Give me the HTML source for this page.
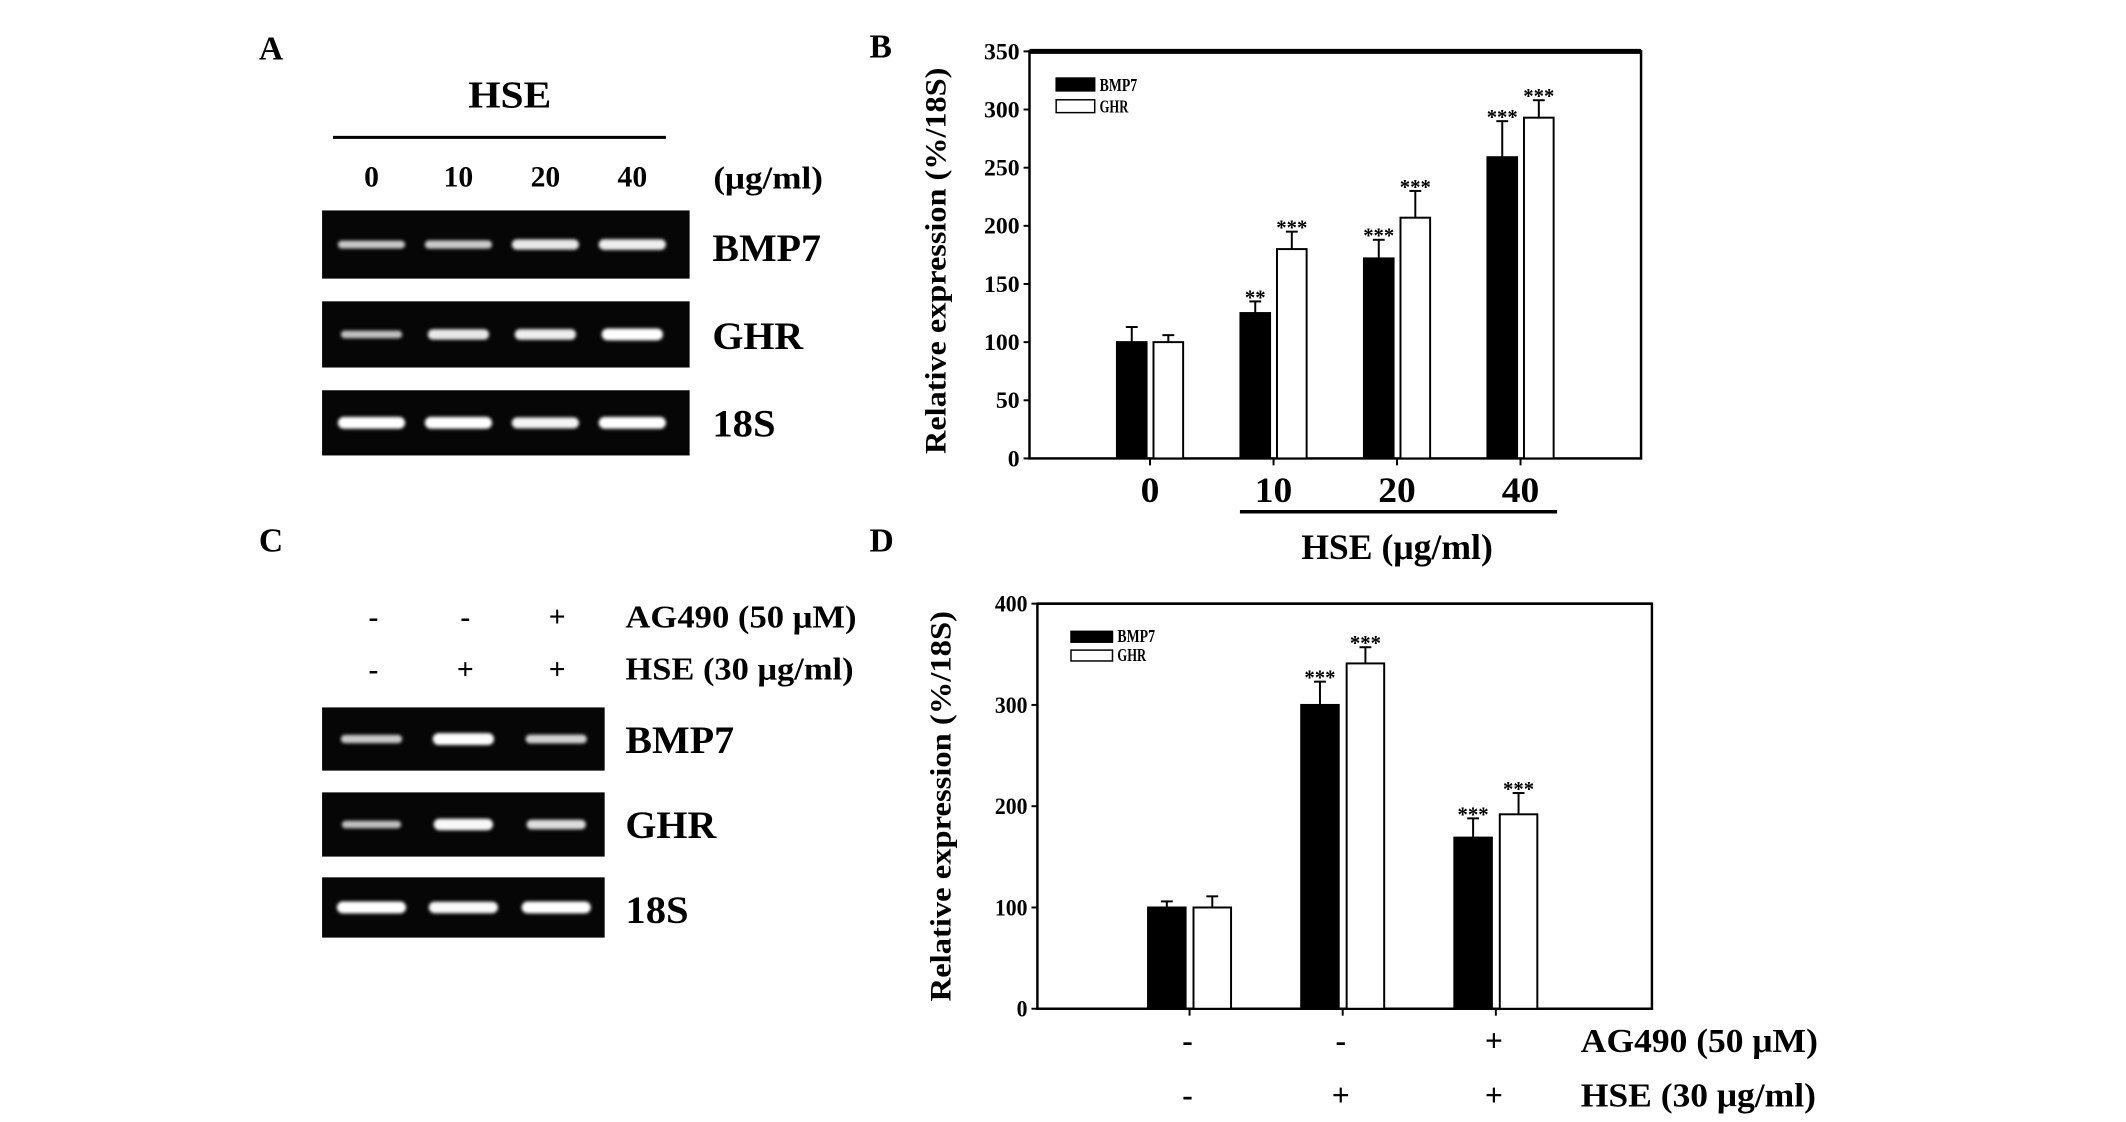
<!DOCTYPE html>
<html><head><meta charset="utf-8"><style>
html,body{margin:0;padding:0;background:#fff;overflow:hidden;}
svg{display:block;font-family:"Liberation Serif",serif;font-weight:bold;}
</style></head><body>
<svg id="fig" width="2126" height="1122" viewBox="0 0 2126 1122" xmlns="http://www.w3.org/2000/svg">
<defs>
<filter id="blur" x="-20%" y="-100%" width="140%" height="300%"><feGaussianBlur stdDeviation="1.6"/></filter>
</defs>
<g transform="scale(0.988)">
<!-- Panel A -->
<text x="262" y="60" font-size="34">A</text>
<text x="516" y="109" font-size="38" text-anchor="middle" textLength="84" lengthAdjust="spacingAndGlyphs">HSE</text>
<line x1="337" y1="139" x2="674" y2="139" stroke="#000" stroke-width="3"/>
<g font-size="30" text-anchor="middle">
<text x="376" y="189">0</text><text x="464" y="189">10</text><text x="552" y="189">20</text><text x="640" y="189">40</text>
</g>
<text x="722" y="191" font-size="32" textLength="111" lengthAdjust="spacingAndGlyphs">(μg/ml)</text>
<g id="gelA"></g>
<text x="721" y="264" font-size="40" textLength="110" lengthAdjust="spacingAndGlyphs">BMP7</text>
<text x="721" y="353" font-size="40" textLength="92" lengthAdjust="spacingAndGlyphs">GHR</text>
<text x="721" y="442" font-size="40" textLength="64" lengthAdjust="spacingAndGlyphs">18S</text>

<!-- Panel C -->
<text x="262" y="558" font-size="34">C</text>
<g font-size="30" text-anchor="middle">
<text x="378" y="634">-</text><text x="471" y="634">-</text><text x="564" y="634">+</text>
<text x="378" y="687">-</text><text x="471" y="687">+</text><text x="564" y="687">+</text>
</g>
<text x="633" y="635" font-size="32" textLength="234" lengthAdjust="spacingAndGlyphs">AG490 (50 μM)</text>
<text x="633" y="688" font-size="32" textLength="231" lengthAdjust="spacingAndGlyphs">HSE (30 μg/ml)</text>
<g id="gelC"></g>
<text x="633" y="762" font-size="40" textLength="110" lengthAdjust="spacingAndGlyphs">BMP7</text>
<text x="633" y="848" font-size="40" textLength="92" lengthAdjust="spacingAndGlyphs">GHR</text>
<text x="633" y="934" font-size="40" textLength="64" lengthAdjust="spacingAndGlyphs">18S</text>

<!-- Panel B -->
<text x="880" y="58" font-size="34">B</text>
<g id="chartB"></g>
<!-- Panel D -->
<text x="880" y="558" font-size="34">D</text>
<g id="chartD"></g>
</g>
</svg>
<script>
// ---- Chart B data ----
const catsB = ["0","10","20","40"];
const bmpB = [100,125,172,259];
const bmpErrB = [13,10,16,31];
const ghrB = [100,180,207,293];
const ghrErrB = [6,15,23,15];
const bmpSigB = ["","**","***","***"];
const ghrSigB = ["","***","***","***"];
const ticksB = [0,50,100,150,200,250,300,350];
// ---- Chart D data ----
const bmpD = [100,300,169];
const bmpErrD = [6,23,19];
const ghrD = [100,341,192];
const ghrErrD = [11,16,21];
const bmpSigD = ["","***","***"];
const ghrSigD = ["","***","***"];
const ticksD = [0,100,200,300,400];
const ag490D = ["-","-","+"];
const hseD = ["-","+","+"];
// ---- Gel band intensities (0..1) ----
const gelA_bmp = [0.5,0.55,0.8,0.85];
const gelA_ghr = [0.45,0.8,0.85,1.0];
const gelA_18s = [1,1,0.9,1];
const gelC_bmp = [0.55,1,0.6];
const gelC_ghr = [0.45,0.95,0.7];
const gelC_18s = [1,0.95,1];

const NS="http://www.w3.org/2000/svg";
function mk(tag,attrs,parent){const e=document.createElementNS(NS,tag);for(const k in attrs)e.setAttribute(k,attrs[k]);parent.appendChild(e);return e;}

function gel(parent,x0,x1,y0,y1,lanes,vals,name,bw){
  const r=mk('rect',{x:x0,y:y0,width:x1-x0,height:y1-y0,fill:'#060606'},parent);
  
  
  const cy=(y0+y1)/2;
  vals.forEach((v,i)=>{
    const h=4+8*v;
    const c=Math.round(140+115*v);
    const b=mk('rect',{x:lanes[i]-bw/2,y:cy-h/2,width:bw,height:h,rx:h/2,fill:'rgb('+c+','+c+','+c+')',filter:'url(#blur)'},parent);
    
    
  });
}
const gA=document.getElementById('gelA');
const lanesA=[376,464,552,640];
gel(gA,326,698,213,282,lanesA,gelA_bmp,'gel-a-bmp7',68);
gel(gA,326,698,305,372,lanesA,gelA_ghr,'gel-a-ghr',62);
gel(gA,326,698,395,461,lanesA,gelA_18s,'gel-a-18s',68);
const gC=document.getElementById('gelC');
const lanesC=[376,469,563];
gel(gC,326,612,716,780,lanesC,gelC_bmp,'gel-c-bmp7',62);
gel(gC,326,612,802,867,lanesC,gelC_ghr,'gel-c-ghr',60);
gel(gC,326,612,888,949,lanesC,gelC_18s,'gel-c-18s',70);

function chart(g,o){
  const y=v=>o.bot-(v-0)/(o.max)*(o.bot-o.top);
  const n=o.bmp.length;
  const xc=i=>o.c0+i*o.step;
  const f=mk('rect',{x:o.left,y:o.top,width:o.right-o.left,height:o.bot-o.top,fill:'none',stroke:'#000','stroke-width':2.5},g);
  
  
  const tl=mk('line',{x1:o.left,y1:o.top,x2:o.right,y2:o.top,stroke:'#000','stroke-width':o.topW},g);
  
  
  o.ticks.forEach(t=>{
    const tk=mk('line',{x1:o.left-6,y1:y(t),x2:o.left,y2:y(t),stroke:'#000','stroke-width':2},g);
    
    
    const s=String(t);
    const lb=mk('text',{x:o.left-10,y:y(t)+8,'font-size':23,'text-anchor':'end',textLength:s.length*o.tcw,lengthAdjust:'spacingAndGlyphs'},g);
    lb.textContent=s;
    
    
  });
  const yt=mk('text',{x:0,y:0,'font-size':o.tfs,'text-anchor':'middle',transform:'translate('+o.tx+','+o.ty+') rotate(-90)',textLength:o.tlen,lengthAdjust:'spacingAndGlyphs'},g);
  yt.textContent='Relative expression (%/18S)';
  
  
  for(let i=0;i<n;i++){
    const c=xc(i);
    const tk=mk('line',{x1:c,y1:o.bot,x2:c,y2:o.bot+7,stroke:'#000','stroke-width':2},g);
    
    
    [[o.bmp,o.bmpE,o.bmpS,'#000',-1,'bar-bmp7'],[o.ghr,o.ghrE,o.ghrS,'#fff',1,'bar-ghr']].forEach(s=>{
      const v=s[0][i],e=s[1][i];
      const bx=c+(s[4]<0?-o.gap/2-o.bw:o.gap/2);
      const mid=bx+o.bw/2;
      const el=mk('line',{x1:mid,y1:y(v),x2:mid,y2:y(v+e),stroke:'#000','stroke-width':2},g);
      
      
      const cap=mk('line',{x1:mid-6,y1:y(v+e),x2:mid+6,y2:y(v+e),stroke:'#000','stroke-width':2},g);
      
      
      const r=mk('rect',{x:bx,y:y(v),width:o.bw,height:y(0)-y(v),fill:s[3],stroke:'#000','stroke-width':2},g);
      
      
      if(s[2][i]){
        const st=mk('text',{x:mid,y:y(v+e)+3,'font-size':21,'text-anchor':'middle'},g);
        st.textContent=s[2][i];
        
        
      }
    });
  }
  [['#000','BMP7',o.legY],['#fff','GHR',o.legY+o.legDy]].forEach(L=>{
    const r=mk('rect',{x:o.legX,y:L[2],width:o.legW,height:o.legH,fill:L[0],stroke:'#000','stroke-width':1.5},g);
    
    
    const t=mk('text',{x:o.legX+o.legW+5,y:L[2]+o.legH,'font-size':18,textLength:L[1]==='BMP7'?38:29,lengthAdjust:'spacingAndGlyphs'},g);
    t.textContent=L[1];
    
    
  });
  return {xc,y};
}

const gB=document.getElementById('chartB');
const B=chart(gB,{left:1042,right:1661,top:52,bot:464,max:350,ticks:ticksB,c0:1164,step:125,bw:30,gap:7,tcw:12,
  bmp:bmpB,bmpE:bmpErrB,bmpS:bmpSigB,ghr:ghrB,ghrE:ghrErrB,ghrS:ghrSigB,tx:957,ty:264,tfs:30,tlen:391,topW:5,
  legX:1069,legY:79,legW:39,legH:13,legDy:22});
catsB.forEach((c,i)=>{
  const t=mk('text',{x:B.xc(i),y:508,'font-size':36,'text-anchor':'middle',textLength:c.length*19,lengthAdjust:'spacingAndGlyphs'},gB);
  t.textContent=c;
  
  
});
const hl=mk('line',{x1:1255,y1:518,x2:1576,y2:518,stroke:'#000','stroke-width':3.5},gB);


const xt=mk('text',{x:1414,y:566,'font-size':36,'text-anchor':'middle',textLength:194,lengthAdjust:'spacingAndGlyphs'},gB);
xt.textContent='HSE (μg/ml)';



const gD=document.getElementById('chartD');
const D=chart(gD,{left:1050,right:1672,top:611,bot:1021,max:400,ticks:ticksD,c0:1204,step:155,bw:38,gap:8,tcw:11,
  bmp:bmpD,bmpE:bmpErrD,bmpS:bmpSigD,ghr:ghrD,ghrE:ghrErrD,ghrS:ghrSigD,tx:962,ty:816,tfs:30,tlen:395,topW:2.5,
  legX:1084,legY:639,legW:42,legH:11,legDy:19});
ag490D.forEach((s,i)=>{
  const t=mk('text',{x:D.xc(i)-2,y:1064,'font-size':32,'text-anchor':'middle'},gD);
  t.textContent=s;
  
  
});
hseD.forEach((s,i)=>{
  const t=mk('text',{x:D.xc(i)-2,y:1119,'font-size':32,'text-anchor':'middle'},gD);
  t.textContent=s;
  
  
});
const a1=mk('text',{x:1600,y:1065,'font-size':34,textLength:240,lengthAdjust:'spacingAndGlyphs'},gD);
a1.textContent='AG490 (50 μM)';


const a2=mk('text',{x:1600,y:1120,'font-size':34,textLength:238,lengthAdjust:'spacingAndGlyphs'},gD);
a2.textContent='HSE (30 μg/ml)';


</script>
</body></html>
